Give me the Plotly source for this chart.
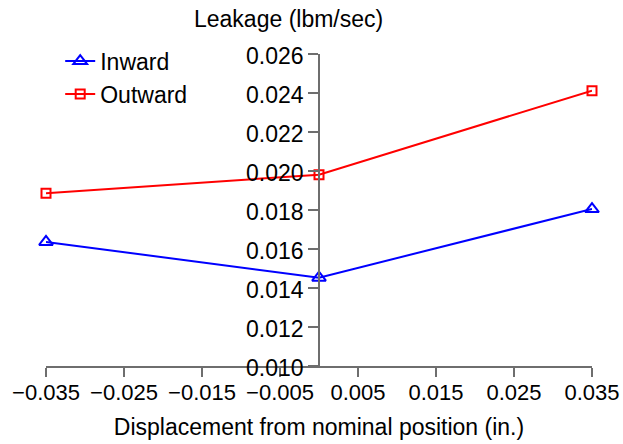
import plotly.graph_objects as go

displacement = [-0.035, 0.0, 0.035]
inward = [0.01636, 0.01453, 0.01805]
outward = [0.01886, 0.01981, 0.02412]
x_ticks = [-0.035, -0.025, -0.015, -0.005, 0.005, 0.015, 0.025, 0.035]
y_ticks = [0.010, 0.012, 0.014, 0.016, 0.018, 0.020, 0.022, 0.024, 0.026]

FONT = "Liberation Sans, Arial, sans-serif"
FS = 23

fig = go.Figure()
fig.add_trace(go.Scatter(
    x=displacement, y=inward, name="Inward", mode="lines+markers",
    line=dict(color="#0000ff", width=2),
    marker=dict(symbol="triangle-up-open", size=12, color="#0000ff", line=dict(width=2)),
    cliponaxis=False,
))
fig.add_trace(go.Scatter(
    x=displacement, y=outward, name="Outward", mode="lines+markers",
    line=dict(color="#ff0000", width=2),
    marker=dict(symbol="square-open", size=9, color="#ff0000", line=dict(width=2)),
    cliponaxis=False,
))

fig.update_layout(
    width=623, height=444,
    margin=dict(l=46, r=31, t=54, b=78),
    paper_bgcolor="white", plot_bgcolor="white",
    font=dict(family=FONT, size=FS, color="black"),
    showlegend=True,
    legend=dict(x=0.026, y=1.046, xanchor="left", yanchor="top",
                bgcolor="rgba(0,0,0,0)", font=dict(size=FS),
                itemwidth=30, tracegroupgap=0),
    xaxis=dict(
        range=[-0.035, 0.035], tickvals=x_ticks, tickformat=".3f",
        showline=True, linecolor="#6e6e6e", linewidth=1.5,
        ticks="outside", ticklen=9, tickcolor="#6e6e6e", tickwidth=1.5,
        showgrid=False, zeroline=False, automargin=False,
        ticklabelstandoff=-3,
        title=dict(text="Displacement from nominal position (in.)", font=dict(size=FS), standoff=15),
        tickfont=dict(size=22),
    ),
    yaxis=dict(
        range=[0.010, 0.026], tickvals=y_ticks, tickformat=".3f",
        anchor="free", position=0.5,
        showline=True, linecolor="#6e6e6e", linewidth=1.5,
        ticks="outside", ticklen=10, tickcolor="#6e6e6e", tickwidth=1.5,
        showgrid=False, zeroline=False, automargin=False,
        ticklabelshift=2,
        tickfont=dict(size=FS),
    ),
    annotations=[dict(
        text="Leakage (lbm/sec)", xref="paper", yref="paper",
        x=(288 - 46) / 546, y=1.0, yshift=35, xanchor="center", yanchor="middle",
        showarrow=False, font=dict(size=FS),
    )],
)

fig.write_html(
    "out.html",
    config={"displayModeBar": False},
    post_script="document.body.style.margin='0';document.body.style.overflow='hidden';",
)
